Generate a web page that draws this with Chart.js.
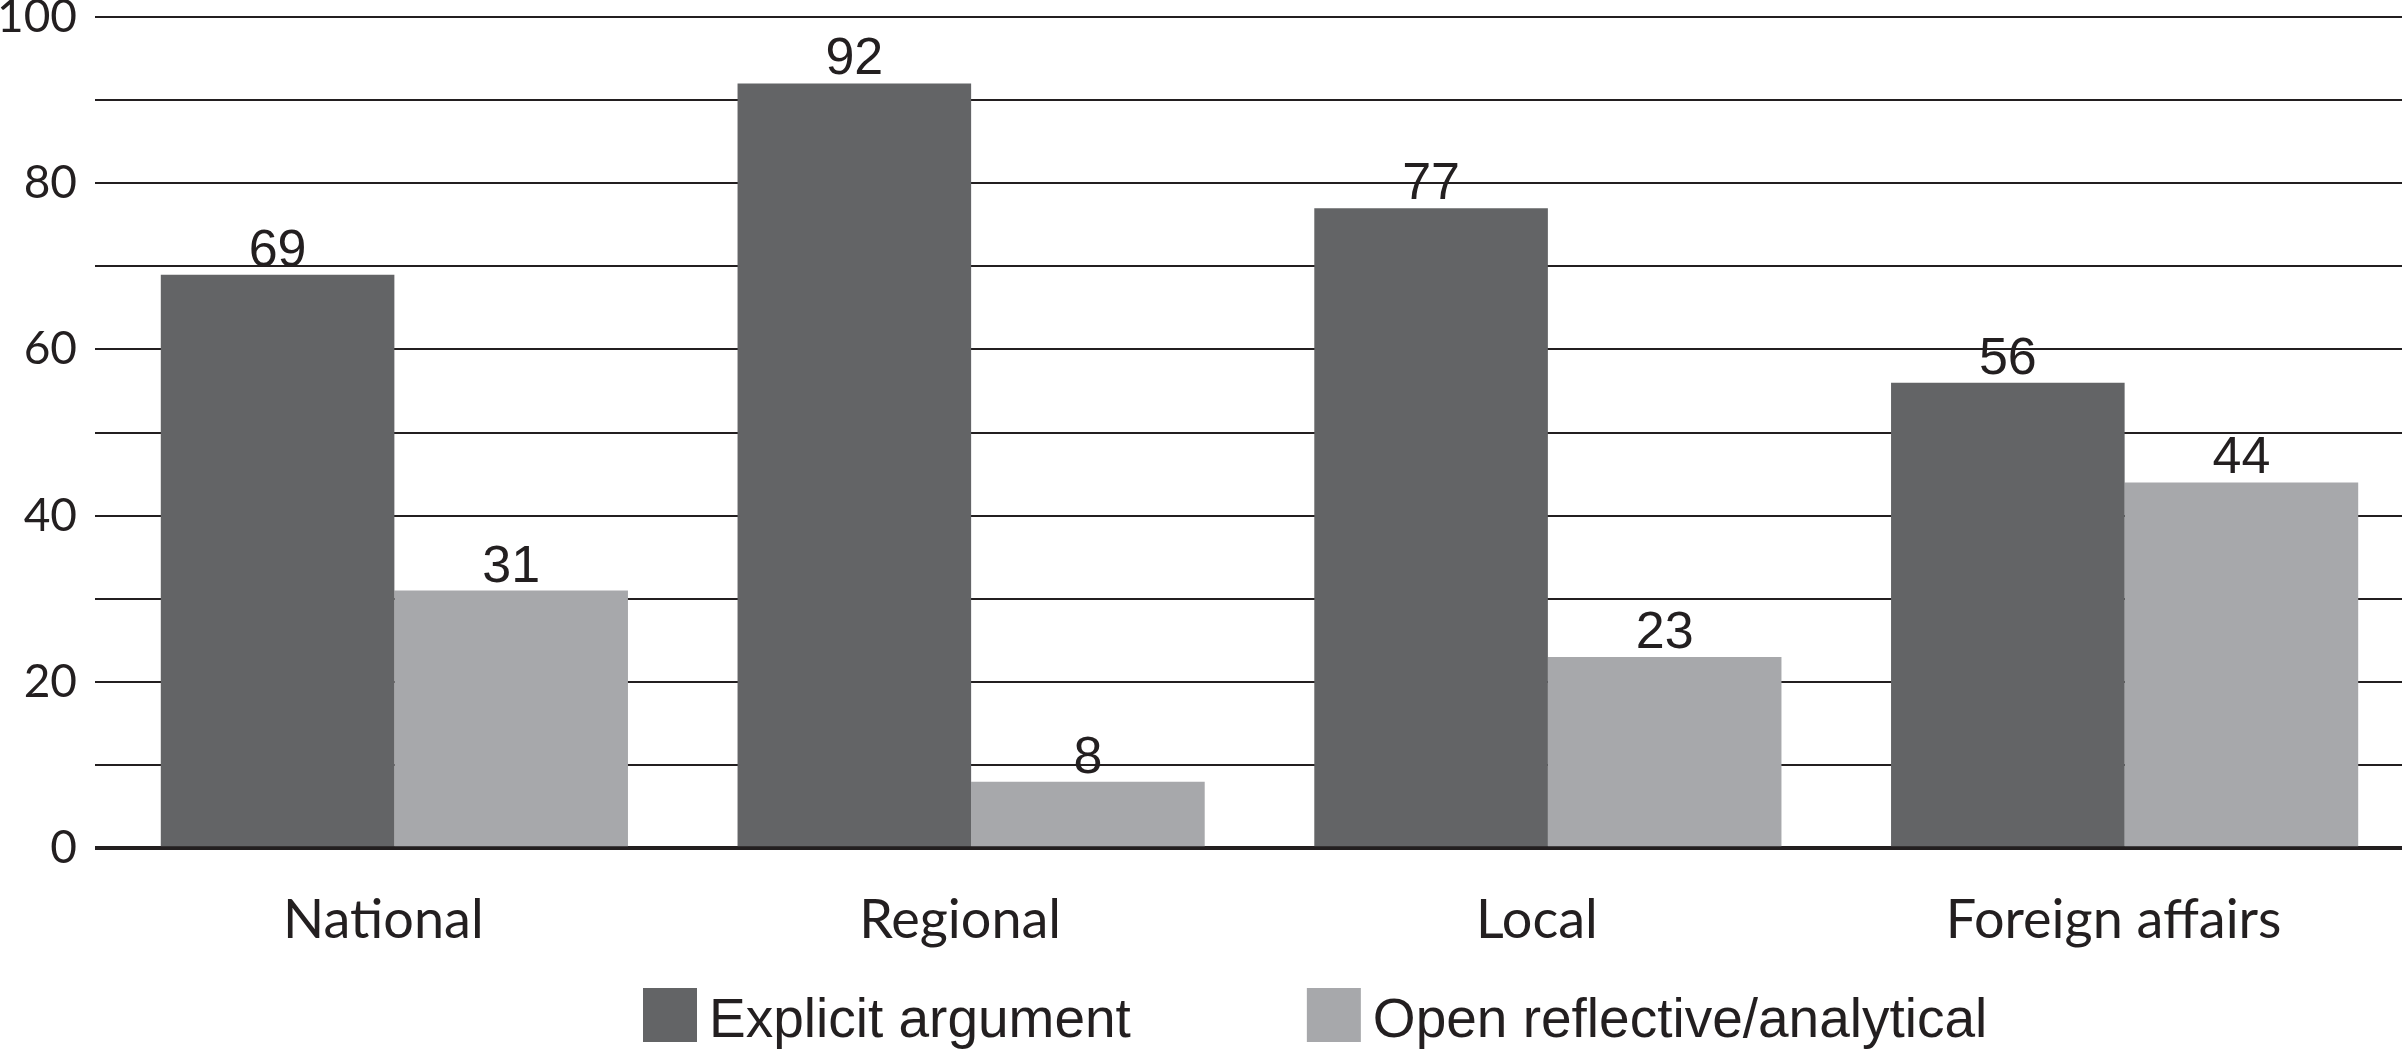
<!DOCTYPE html>
<html>
<head>
<meta charset="utf-8">
<title>Argument style by news type</title>
<script src="https://cdn.jsdelivr.net/npm/chart.js@4.4.1/dist/chart.umd.min.js"></script>
<style>
  html, body { margin: 0; padding: 0; background: #fff; }
  #wrap { width: 2402px; height: 1049px; position: relative; }
</style>
</head>
<body>
<div id="wrap"><canvas id="chart"></canvas></div>
<script>
// Chart data
const categories = ['National', 'Regional', 'Local', 'Foreign affairs'];
const explicitArgument = [69, 92, 77, 56];
const openReflective = [31, 8, 23, 44];
const seriesNames = ['Explicit argument', 'Open reflective/analytical'];
const yTicks = [0, 20, 40, 60, 80, 100];

const DARK = '#636466';
const LIGHT = '#a7a8ab';
const INK = '#231f20';

// bars in the original sit a little right of the category labels
const BAR_SHIFT = 11;

// Shift bars and write value labels above each one
const barLabels = {
  id: 'barLabels',
  beforeDatasetsDraw(chart) {
    chart.ctx.save();
    chart.ctx.translate(BAR_SHIFT, 0);
  },
  afterDatasetsDraw(chart) {
    const ctx = chart.ctx;
    ctx.fillStyle = INK;
    ctx.font = '52px "Liberation Sans", Arial, sans-serif';
    ctx.textAlign = 'center';
    ctx.textBaseline = 'alphabetic';
    chart.data.datasets.forEach((ds, i) => {
      chart.getDatasetMeta(i).data.forEach((bar, j) => {
        ctx.fillText(String(ds.data[j]), bar.x, bar.y - 9);
      });
    });
    ctx.restore();
  }
};

// Legend drawn under the axis labels
const bottomLegend = {
  id: 'bottomLegend',
  afterDraw(chart) {
    const ctx = chart.ctx;
    const box = 54;
    const top = 988;
    let x = 643;
    ctx.save();
    ctx.font = '55px "Liberation Sans", Arial, sans-serif';
    ctx.textBaseline = 'alphabetic';
    chart.data.datasets.forEach((ds) => {
      ctx.fillStyle = ds.backgroundColor;
      ctx.fillRect(x, top, box, box);
      x += box + 12;
      ctx.fillStyle = INK;
      ctx.fillText(ds.label, x, top + 49);
      x += ctx.measureText(ds.label).width + 176;
    });
    ctx.restore();
  }
};

new Chart(document.getElementById('chart'), {
  type: 'bar',
  data: {
    labels: categories,
    datasets: [
      { label: seriesNames[0], data: explicitArgument, backgroundColor: DARK },
      { label: seriesNames[1], data: openReflective, backgroundColor: LIGHT }
    ]
  },
  options: {
    responsive: true,
    maintainAspectRatio: false,
    animation: false,
    layout: { padding: { left: 0, right: 0, top: 0, bottom: 56 } },
    datasets: {
      bar: { categoryPercentage: 0.81, barPercentage: 1.0, borderWidth: 0 }
    },
    plugins: {
      legend: { display: false },
      tooltip: { enabled: false }
    },
    scales: {
      x: {
        grid: { display: false, drawTicks: false },
        border: { display: false },
        ticks: {
          color: INK,
          padding: 40,
          font: { family: 'Lato', size: 54 }
        }
      },
      y: {
        min: 0,
        max: 100,
        border: { display: false },
        grid: {
          drawTicks: false,
          color: INK,
          lineWidth: (c) => (c.tick && c.tick.value === 0 ? 4 : 2)
        },
        ticks: {
          stepSize: 10,
          padding: 18,
          color: INK,
          font: { family: 'Lato', size: 46 },
          callback: (v) => (yTicks.includes(v) ? v : '')
        },
        afterFit: (scale) => {
          scale.width = 95;
          scale.paddingTop = 17;
        }
      }
    }
  },
  plugins: [barLabels, bottomLegend]
});
</script>
</body>
</html>
